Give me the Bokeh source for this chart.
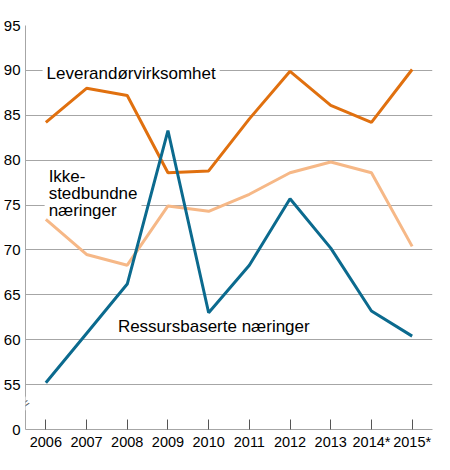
from bokeh.plotting import figure
from bokeh.models import Label, FixedTicker
from bokeh.embed import file_html
from bokeh.resources import INLINE

years = [2006, 2007, 2008, 2009, 2010, 2011, 2012, 2013, 2014, 2015]
year_labels = ["2006", "2007", "2008", "2009", "2010", "2011", "2012", "2013", "2014*", "2015*"]

leverandor = [84.2, 88.0, 87.2, 78.6, 78.8, 84.6, 89.9, 86.1, 84.2, 90.1]
ikke_stedbundne = [73.4, 69.5, 68.3, 74.9, 74.3, 76.2, 78.6, 79.8, 78.6, 70.4]
ressursbaserte = [55.2, 60.7, 66.2, 83.3, 63.0, 68.3, 75.7, 70.2, 63.2, 60.4]

# y axis is broken: the bottom tick (drawn at 50) stands for 0
y_ticks = [50, 55, 60, 65, 70, 75, 80, 85, 90, 95]
y_labels = {50: "0"}

FONT = "Liberation Sans"
GRID = "#a6a6a6"

p = figure(
    width=434,
    height=452,
    x_range=(2005.5, 2015.5),
    y_range=(50, 95),
    output_backend="svg",
    toolbar_location=None,
    min_border_top=25,
    min_border_right=2,
    min_border_left=10,
    min_border_bottom=10,
)
p.outline_line_color = None
p.background_fill_color = "white"

p.xgrid.grid_line_color = None
p.ygrid.grid_line_color = GRID
p.ygrid.grid_line_width = 1
p.ygrid.ticker = FixedTicker(ticks=y_ticks[1:])

p.xaxis.ticker = FixedTicker(ticks=years)
p.xaxis.major_label_overrides = {y: l for y, l in zip(years, year_labels)}
p.yaxis.ticker = FixedTicker(ticks=y_ticks)
p.yaxis.major_label_overrides = y_labels

for ax in (p.xaxis, p.yaxis):
    ax.axis_line_color = GRID
    ax.axis_line_width = 1
    ax.minor_tick_line_color = None
    ax.major_label_text_font = FONT
    ax.major_label_text_color = "black"

p.xaxis.major_label_text_font_size = "14.5px"
p.yaxis.major_label_text_font_size = "15px"
p.xaxis.major_tick_in = 10
p.xaxis.major_tick_out = 0
p.xaxis.major_tick_line_color = "#555555"
p.xaxis.major_label_standoff = 4
p.yaxis.major_tick_line_color = None
p.yaxis.major_tick_in = 0
p.yaxis.major_tick_out = 0
p.yaxis.major_label_standoff = 5

p.line(years, leverandor, line_color="#e0700f", line_width=3)
p.line(years, ikke_stedbundne, line_color="#f6b887", line_width=3)
p.line(years, ressursbaserte, line_color="#0b6a8e", line_width=3)

# axis break symbol
p.add_layout(Label(
    x=2005.5, y=52.9, text="=", angle=0.6,
    text_align="center", text_baseline="middle",
    text_font=FONT, text_font_size="13px", text_color="#555555",
    background_fill_color="white",
))

label_style = dict(
    text_font=FONT, text_font_size="17px", text_color="black",
    text_baseline="middle", background_fill_color="white", level="underlay",
)
p.add_layout(Label(x=2005.92, y=89.65, text="Leverandørvirksomhet", padding=4, **label_style))
p.add_layout(Label(x=2005.97, y=76.3, text="Ikke-\nstedbundne\nnæringer",
                   text_line_height=0.9, padding=4, **label_style))
p.add_layout(Label(x=2007.77, y=61.45, text="Ressursbaserte næringer", **label_style))

open("out.html", "w").write(file_html(p, INLINE))
